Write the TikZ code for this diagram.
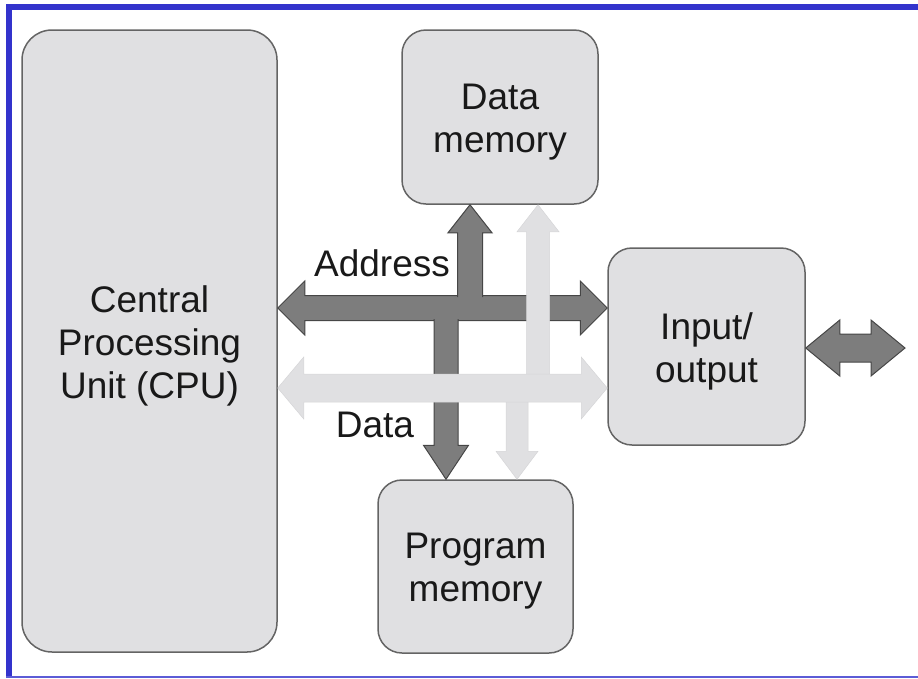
\documentclass[tikz,border=0pt]{standalone}
\usepackage{fontspec}
\setmainfont{Liberation Sans}
\usetikzlibrary{calc}
\definecolor{bordblue}{RGB}{51,51,204}
\definecolor{boxfill}{RGB}{224,224,226}
\definecolor{boxline}{RGB}{100,100,100}
\definecolor{darkbus}{RGB}{125,125,125}
\definecolor{darkedge}{RGB}{70,70,70}
\definecolor{lightbus}{RGB}{224,224,226}
\definecolor{txt}{RGB}{25,25,25}

% horizontal double-headed fat arrow: #1 style, #2 left tip, #3 right tip, #4 half shaft, #5 half head, #6 head length
\newcommand\fatH[6]{%
 \path[#1] let \p1=(#2), \p2=(#3) in (\x1,\y1) -- (\x1+#6,\y1+#5) -- (\x1+#6,\y1+#4) -- (\x2-#6,\y1+#4) -- (\x2-#6,\y1+#5) -- (\x2,\y1) -- (\x2-#6,\y1-#5) -- (\x2-#6,\y1-#4) -- (\x1+#6,\y1-#4) -- (\x1+#6,\y1-#5) -- cycle;}
% vertical single-headed fat arrow: #1 fill opts, #2 draw opts, #3 base, #4 tip, #5 half shaft, #6 half head, #7 head length, #8 sign (- up, + down)
\newcommand\fatV[8]{%
 \fill[#1] let \p1=(#3), \p2=(#4) in (\x1-#5,\y1) -- (\x1-#5,\y2#8#7) -- (\x1-#6,\y2#8#7) -- (\x1,\y2) -- (\x1+#6,\y2#8#7) -- (\x1+#5,\y2#8#7) -- (\x1+#5,\y1) -- cycle;
 \draw[#2] let \p1=(#3), \p2=(#4) in (\x1-#5,\y1) -- (\x1-#5,\y2#8#7) -- (\x1-#6,\y2#8#7) -- (\x1,\y2) -- (\x1+#6,\y2#8#7) -- (\x1+#5,\y2#8#7) -- (\x1+#5,\y1);}

\tikzset{
 unitbox/.style={draw=boxline, fill=boxfill, line width=1.5pt, rectangle, inner sep=0pt},
 unittext/.style={inner sep=0pt, align=center, text=txt, font=\fontsize{37}{43}\selectfont, yshift=-5pt},
 buslabel/.style={inner sep=0pt, text=txt, font=\fontsize{37}{43}\selectfont},
 darkarrow/.style={fill=darkbus, draw=darkedge, line width=1pt},
 lightarrow/.style={fill=lightbus, draw=lightbus!95!black, line width=0.5pt},
 border/.style={fill=bordblue}
}

\begin{document}
\begin{tikzpicture}[x=1pt, y=-1pt]
\useasboundingbox (0,0) rectangle (918,678);
% frame
\fill[border] (6,4) rectangle (918,10);
\fill[border] (6,4) rectangle (12,678);
\draw[bordblue!80!white, line width=1.2pt] (6,677) -- (918,677);

% units
\node[unitbox, rounded corners=30pt, minimum width=255pt, minimum height=622pt,
  label={[unittext, name=cputext]center:Central\\Processing\\Unit (CPU)}] (cpu) at (149.5,341) {};
\node[unitbox, rounded corners=24pt, minimum width=196pt, minimum height=174pt,
  label={[unittext, name=dmemtext]center:Data\\memory}] (dmem) at (500,117) {};
\node[unitbox, rounded corners=24pt, minimum width=195pt, minimum height=173pt,
  label={[unittext, name=pmemtext]center:Program\\memory}] (pmem) at (475.5,566.5) {};
\node[unitbox, rounded corners=24pt, minimum width=197pt, minimum height=197pt,
  label={[unittext, name=iotext]center:Input/\\output}] (io) at (706.5,346.5) {};

% helper coordinates
\coordinate (yaddr) at (0,308);
\coordinate (ydata) at (0,388);
\coordinate (upb) at (470,297);
\coordinate (dnb) at (446,319);
\coordinate (lub) at (538,376);
\coordinate (ldb) at (517,400);
\coordinate (ext) at (905,348);

% address bus
\fatH{darkarrow}{cpu.east |- yaddr}{io.west |- yaddr}{12.5pt}{27pt}{27pt}
% dark verticals
\fatV{darkbus}{darkedge, line width=1pt}{upb}{dmem.south -| upb}{12.5pt}{22pt}{28pt}{-}
\fatV{darkbus}{darkedge, line width=1pt}{dnb}{pmem.north -| dnb}{12pt}{22.5pt}{34pt}{+}
% light verticals
\fatV{lightbus}{lightbus!95!black, line width=0.5pt}{lub}{dmem.south -| lub}{11.5pt}{21pt}{27pt}{-}
\fatV{lightbus}{lightbus!95!black, line width=0.5pt}{ldb}{pmem.north -| ldb}{11pt}{21pt}{28pt}{+}
% data bus
\fatH{lightarrow}{cpu.east |- ydata}{io.west |- ydata}{14pt}{31pt}{26pt}
% external I/O
\fatH{darkarrow}{io.east |- ext}{ext}{14pt}{28pt}{34pt}

% bus labels
\node[buslabel] (addrlbl) at (382,263) {Address};
\node[buslabel] (datalbl) at (375,425) {Data};
\end{tikzpicture}
\end{document}
